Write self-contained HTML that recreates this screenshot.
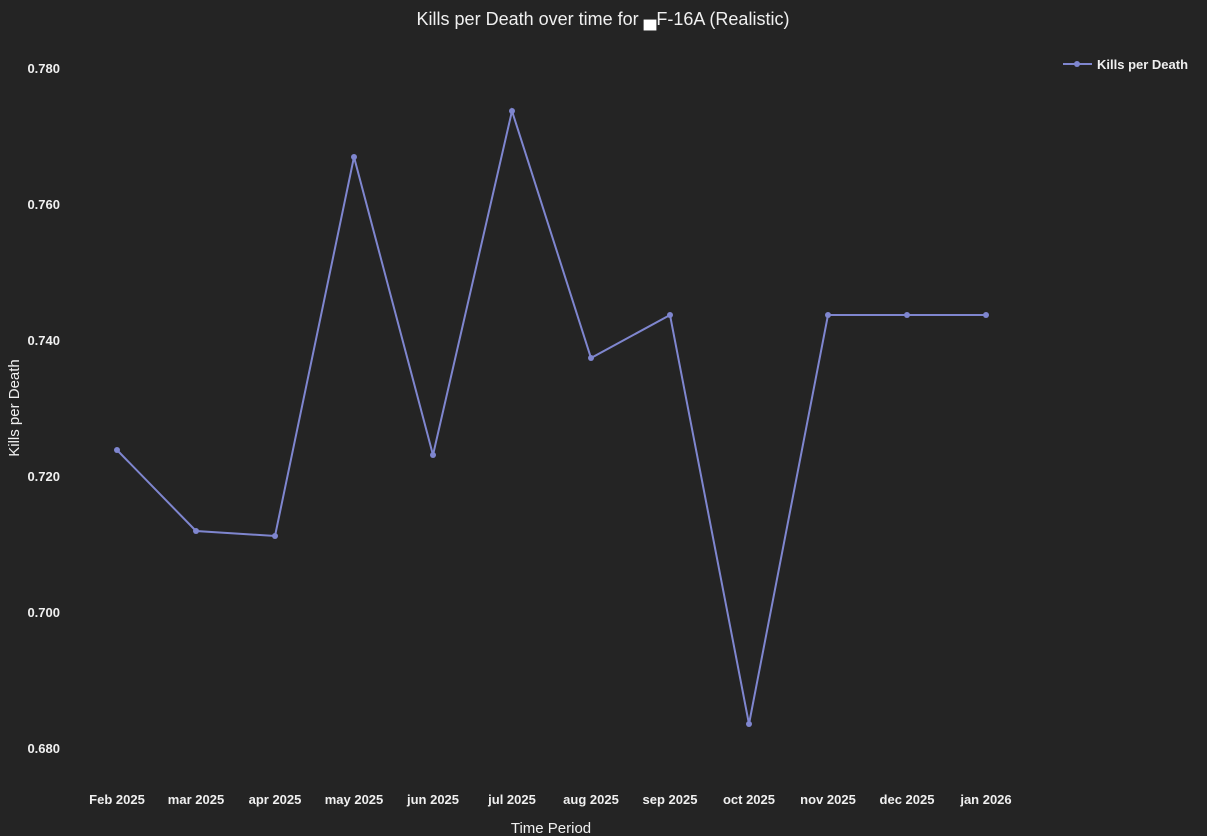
<!DOCTYPE html>
<html><head><style>
html,body{margin:0;padding:0;background:#242424;}
svg{display:block;font-family:"Liberation Sans",sans-serif;}
</style></head><body>
<svg width="1207" height="836" viewBox="0 0 1207 836">
<rect width="1207" height="836" fill="#242424"/>
<text x="603" y="25" text-anchor="middle" fill="#f0f0f0" font-size="18">Kills per Death over time for <tspan fill="#fff">▄</tspan>F-16A (Realistic)</text>
<g fill="#f0f0f0" font-size="13" font-weight="bold" text-anchor="end">
<text x="60" y="73">0.780</text>
<text x="60" y="209">0.760</text>
<text x="60" y="345">0.740</text>
<text x="60" y="481">0.720</text>
<text x="60" y="617">0.700</text>
<text x="60" y="753">0.680</text>
</g>
<g fill="#f0f0f0" font-size="13" font-weight="bold" text-anchor="middle">
<text x="117" y="804">Feb 2025</text>
<text x="196" y="804">mar 2025</text>
<text x="275" y="804">apr 2025</text>
<text x="354" y="804">may 2025</text>
<text x="433" y="804">jun 2025</text>
<text x="512" y="804">jul 2025</text>
<text x="591" y="804">aug 2025</text>
<text x="670" y="804">sep 2025</text>
<text x="749" y="804">oct 2025</text>
<text x="828" y="804">nov 2025</text>
<text x="907" y="804">dec 2025</text>
<text x="986" y="804">jan 2026</text>
</g>
<text x="551" y="833" text-anchor="middle" fill="#f0f0f0" font-size="15">Time Period</text>
<text transform="translate(19,408) rotate(-90)" text-anchor="middle" fill="#f0f0f0" font-size="15">Kills per Death</text>
<polyline fill="none" stroke="#7f86cf" stroke-width="2" points="117,450 196,531 275,536 354,157 433,455 512,111 591,358 670,315 749,724 828,315 907,315 986,315"/>
<g fill="#7f86cf">
<circle cx="117" cy="450" r="3"/><circle cx="196" cy="531" r="3"/><circle cx="275" cy="536" r="3"/><circle cx="354" cy="157" r="3"/><circle cx="433" cy="455" r="3"/><circle cx="512" cy="111" r="3"/><circle cx="591" cy="358" r="3"/><circle cx="670" cy="315" r="3"/><circle cx="749" cy="724" r="3"/><circle cx="828" cy="315" r="3"/><circle cx="907" cy="315" r="3"/><circle cx="986" cy="315" r="3"/>
</g>
<line x1="1063" y1="64" x2="1092" y2="64" stroke="#7f86cf" stroke-width="2"/>
<circle cx="1077" cy="64" r="3" fill="#7f86cf"/>
<text x="1097" y="69" fill="#f0f0f0" font-size="13" font-weight="bold">Kills per Death</text>
</svg>
</body></html>
